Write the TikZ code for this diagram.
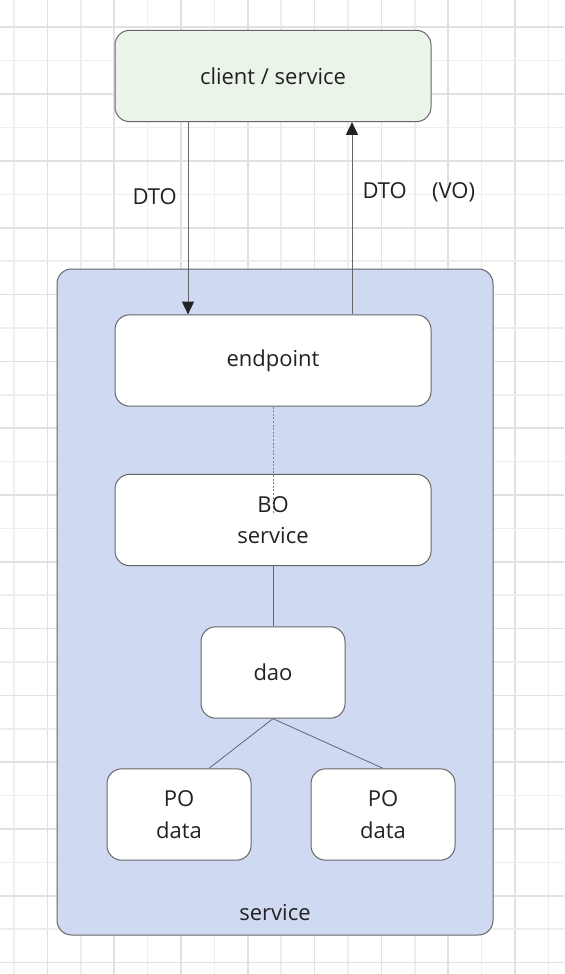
\documentclass[tikz,border=0pt]{standalone}
\usepackage{fontspec}
\setmainfont{Open Sans}
\usetikzlibrary{arrows.meta}

\definecolor{gridlight}{HTML}{EEEEEE}
\definecolor{griddark}{HTML}{E1E1E1}
\definecolor{clientgreen}{HTML}{EAF4E8}
\definecolor{serviceblue}{HTML}{D0D9F2}
\definecolor{edgegray}{HTML}{666666}
\definecolor{textgray}{HTML}{222222}

\begin{document}
\begin{tikzpicture} [x=0.75pt, y=-0.75pt]
    \tikzstyle{every node}=[align = center, font=\fontsize{16.5}{23.5}\selectfont, text=textgray]
    \tikzstyle{box} = [draw=edgegray, line width=0.75pt, rounded corners=11pt, fill=white, inner sep=0pt]
    \tikzstyle{wide box} = [box, minimum width=237pt, minimum height=68.5pt]
    \tikzstyle{small box} = [box, minimum width=108pt, minimum height=68.5pt]
    \tikzstyle{link} = [draw=edgegray, line width=0.75pt]
    \tikzstyle{flow} = [link, -{Triangle[length=9.5pt, width=9pt, color=textgray]}]
    \useasboundingbox (0,0) rectangle (564,974);
    \fill[white] (0,0) rectangle (564,974);
    % background grid
    \foreach \k in {0,2,...,16} \draw[gridlight, line width=1.2pt] ({14+33.4*\k},0) -- ({14+33.4*\k},974);
    \foreach \k in {1,3,...,15} \draw[griddark, line width=1.2pt] ({14+33.4*\k},0) -- ({14+33.4*\k},974);
    \foreach \k in {1,3,...,27} \draw[gridlight, line width=1.2pt] (0,{27.3+33.4*\k}) -- (564,{27.3+33.4*\k});
    \foreach \k in {0,2,...,28} \draw[griddark, line width=1.2pt] (0,{27.3+33.4*\k}) -- (564,{27.3+33.4*\k});

    \node[box, fill=serviceblue, minimum width=327pt, minimum height=499.5pt] (service) at (275,602) {};
    \node (servicelabel) at (275,913) {service};

    \node[wide box, fill=clientgreen] (client) at (273,76) {client / service};
    \node[wide box] (endpoint) at (273,360.5) {endpoint};
    \node[wide box] (bo) at (273,520) {BO\\service};
    \node[small box] (dao) at (273,672.5) {dao};
    \node[small box] (poleft) at (179,814.5) {PO\\data};
    \node[small box] (poright) at (383,814.5) {PO\\data};

    % requests and responses
    \draw[flow] ([xshift=-63.75pt]client.south) -- ([xshift=-63.75pt]endpoint.north)
        node[pos=0.39, left=8pt, inner sep=0pt] {DTO};
    \draw[flow] ([xshift=59.25pt]endpoint.north) -- ([xshift=59.25pt]client.south)
        node[pos=0.634, right=7.5pt, inner sep=0pt] {DTO\hspace{19pt}(VO)};

    \coordinate (dashend) at (273,513);
    \draw[link, draw=gray, dash pattern=on 1.5pt off 1.2pt] (endpoint.south) -- (dashend);
    \draw[link] (bo.south) -- (dao.north);
    \draw[link, line width=0.6pt] (dao.south) -- ([xshift=22.5pt]poleft.north);
    \draw[link, line width=0.6pt] (dao.south) -- (poright.north);
\end{tikzpicture}
\end{document}
